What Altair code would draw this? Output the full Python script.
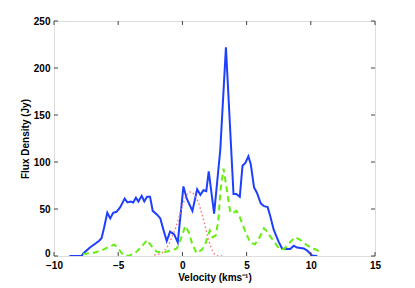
import altair as alt
import pandas as pd

# Blue solid: total flux
blue_v = [-8.8, -8.3, -7.86, -7.7, -7.2, -6.5, -6.3, -6.1, -5.85, -5.62, -5.39, -5.13, -4.84, -4.5,
          -4.28, -4.03, -3.83, -3.62, -3.43, -3.17, -2.97, -2.75, -2.52, -2.31, -1.97, -1.72, -1.48,
          -1.22, -0.96, -0.64, -0.36, 0.08, 0.34, 0.78, 1.15, 1.4, 1.64, 1.86, 2.05, 2.47, 2.95, 3.39,
          3.98, 4.2, 4.47, 4.68, 4.9, 5.14, 5.32, 5.58, 5.81, 6.1, 6.36, 6.64, 6.85, 7.11, 7.5, 7.76,
          8.1, 8.4, 8.67, 8.93, 9.45, 9.72, 10.1, 10.5]
blue_f = [0, 0, 0, 3, 9, 16, 19, 30, 46, 40, 46, 47, 52, 61,
          57, 58, 57, 62, 58, 64, 58, 63, 63, 48, 44, 40, 28,
          16, 26, 23, 14.5, 74, 61, 48, 71, 65, 70, 69, 90, 45, 113, 222,
          66, 66, 63, 96, 99, 106, 98, 73, 67, 56, 53, 52, 42, 28, 15, 8,
          7.5, 7.5, 11, 9, 8, 5.7, 0.5, 0]

# Green dashed
green_v = [-7.75, -7.3, -6.85, -6.2, -5.65, -5.28, -4.92, -4.6, -4.2, -3.7, -3.3, -2.75, -2.4, -2.0,
           -1.5, -1.0, -0.44, -0.05, 0.22, 0.5, 0.75, 1.1, 1.55, 1.8, 2.13, 2.35, 2.6, 2.8, 2.97, 3.2,
           3.47, 3.73, 3.95, 4.2, 4.4, 4.64, 5.03, 5.29, 5.65, 5.98, 6.35, 6.6, 6.85, 7.24, 7.5, 7.9,
           8.41, 8.78, 9.2, 9.6, 10.1, 10.4, 10.75]
green_f = [2, 3, 3.5, 6.5, 10.5, 12, 6.5, 1, 0, 3, 8, 17, 10.5, 4.6,
           3.5, 5.5, 8, 20.5, 32, 25, 13.5, 3, 7, 13.5, 27, 20, 22, 38, 70, 93,
           70, 46, 46, 48, 44, 35, 22, 14, 12.5, 19, 29.5, 26, 20.5, 13.5, 8.2, 7,
           15, 20, 17, 12.5, 8, 7, 4]

# Red dotted
red_v = [-2.2, -1.8, -1.5, -1.25, -1.0, -0.75, -0.5, -0.25, 0.0, 0.25, 0.5, 0.75, 1.0, 1.25,
         1.5, 1.75, 2.0, 2.25, 2.5, 2.75, 3.3]
red_f = [1, 2, 4, 8, 14, 22, 31, 42, 54, 63, 68, 68, 64, 57,
         46, 33, 19, 8, 2, 0, 0]

x_ticks = [-10, -5, 0, 5, 10, 15]
y_ticks = [0, 50, 100, 150, 200, 250]

W, H = 321, 235
FONT = "Liberation Sans"
FS = 10

df = pd.concat([
    pd.DataFrame({"v": blue_v, "f": blue_f, "s": "total"}),
    pd.DataFrame({"v": green_v, "f": green_f, "s": "comp1"}),
    pd.DataFrame({"v": red_v, "f": red_f, "s": "comp2"}),
])

xs = alt.Scale(domain=[-10, 15], nice=False)
ys = alt.Scale(domain=[0, 250], nice=False)

xax = alt.Axis(values=x_ticks, ticks=False, domain=False, grid=False, labelPadding=4,
               labelFont=FONT, labelFontSize=FS, labelFontWeight="bold", labelColor="#000",
               title="Velocity (kms⁻¹)", titleFont=FONT, titleFontSize=FS, titleFontWeight="bold",
               titlePadding=2, titleColor="#000", labelFlush=False)
yax = alt.Axis(values=y_ticks, ticks=False, domain=False, grid=False, labelPadding=4,
               labelFont=FONT, labelFontSize=FS, labelFontWeight="bold", labelColor="#000",
               labelBaseline={"condition": {"test": "datum.value == 0", "value": "alphabetic"},
                              "value": "middle"},
               title="Flux Density (Jy)", titleFont=FONT, titleFontSize=FS, titleFontWeight="bold",
               titlePadding=3, titleColor="#000", labelFlush=False)

base = alt.Chart(df)

blue = base.transform_filter(alt.datum.s == "total").mark_line(
    color="#1f3fff", strokeWidth=2, clip=True).encode(
    x=alt.X("v:Q", scale=xs, axis=xax), y=alt.Y("f:Q", scale=ys, axis=yax))
green = base.transform_filter(alt.datum.s == "comp1").mark_line(
    color="#66ee11", strokeWidth=2, strokeDash=[6, 4], clip=True).encode(
    x=alt.X("v:Q", scale=xs), y=alt.Y("f:Q", scale=ys))
red = base.transform_filter(alt.datum.s == "comp2").mark_line(
    color="#ff7777", strokeWidth=1.5, strokeDash=[1.5, 2.5], clip=True).encode(
    x=alt.X("v:Q", scale=xs), y=alt.Y("f:Q", scale=ys))

xt = pd.DataFrame({"t": x_ticks})
yt = pd.DataFrame({"t": y_ticks})
tick_col = "#444"
xb = alt.Chart(xt).mark_rule(color=tick_col, strokeWidth=1).encode(
    x=alt.X("t:Q", scale=xs), y=alt.value(H), y2=alt.value(H - 4))
xtop = alt.Chart(xt).mark_rule(color=tick_col, strokeWidth=1).encode(
    x=alt.X("t:Q", scale=xs), y=alt.value(0), y2=alt.value(4))
yl = alt.Chart(yt).mark_rule(color=tick_col, strokeWidth=1).encode(
    y=alt.Y("t:Q", scale=ys), x=alt.value(0), x2=alt.value(4))
yr = alt.Chart(yt).mark_rule(color=tick_col, strokeWidth=1).encode(
    y=alt.Y("t:Q", scale=ys), x=alt.value(W), x2=alt.value(W - 4))

chart = alt.layer(blue, green, red, xb, xtop, yl, yr).properties(
    width=W, height=H,
    autosize=alt.AutoSizeParams(type="none"),
    padding={"left": 46, "top": 13, "right": 30, "bottom": 28},
).configure_view(stroke="#555", strokeWidth=1.2).configure(background="white")

chart.save("out.html", embed_options={"renderer": "svg", "actions": False})
